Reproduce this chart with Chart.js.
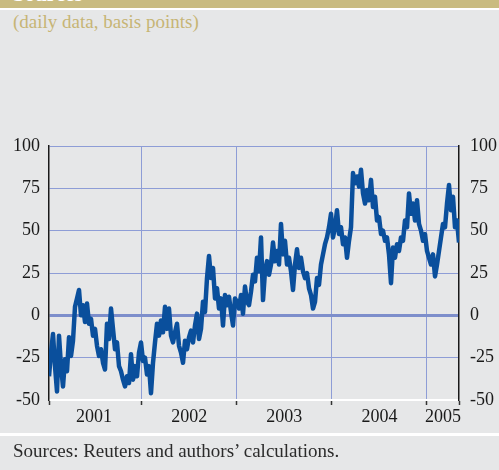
<!DOCTYPE html>
<html><head><meta charset="utf-8">
<script src="https://cdn.jsdelivr.net/npm/chart.js@4.4.1/dist/chart.umd.min.js"></script>
<style>
html,body{margin:0;padding:0;background:#e6e7e8;}
#wrap{position:relative;width:499px;height:470px;overflow:hidden;background:#e6e7e8;font-family:"Liberation Serif","Times New Roman",serif;}
#band{position:absolute;left:0;top:0;width:499px;height:8px;background:#c9bb80;overflow:hidden;}
#band span{position:absolute;left:13px;top:-16px;font-weight:bold;font-size:21px;line-height:21px;color:#fff;white-space:nowrap;}
#rule1{position:absolute;left:0;top:8px;width:499px;height:2px;background:#fff;}
#sub{position:absolute;left:13px;top:11px;font-size:19px;line-height:22px;color:#c6b575;white-space:nowrap;}
#rule2{position:absolute;left:0;top:433px;width:499px;height:3px;background:#fff;}
#src{position:absolute;left:13px;top:440px;font-size:19px;line-height:22px;color:#2b2b2b;white-space:nowrap;}
canvas{position:absolute;left:0;top:0;}
</style></head>
<body>
<div id="wrap">
  <div id="band"><span>Sources</span></div>
  <div id="rule1"></div>
  <div id="sub">(daily data, basis points)</div>
  <canvas id="c" width="499" height="470" style="width:499px;height:470px"></canvas>
  <div id="rule2"></div>
  <div id="src">Sources: Reuters and authors’ calculations.</div>
</div>
<script>
// sampled observations (basis points), evenly spaced from sampleStart to sampleEnd (decimal years)
const sampleStart = 2001.026;
const sampleEnd = 2005.337;
const spread2001 = [-36,-22,-11,-30,-45,-12,-30,-42,-26,-33,-13,-24,-15,5,10,15,0,6,-4,7,-5,-2,-12,-8,-18,-24,-20,-28,-32,-5,-14,4,-8,-20,-16,-30,-33,-38,-42,-36,-40,-23,-38,-30,-36,-22,-16,-27];
const spread2002 = [-25,-35,-30,-46,-28,-16,-5,-12,-3,-10,5,-8,4,-12,-16,-10,-5,-18,-22,-28,-15,-20,-13,-9,-16,-6,1,-14,-8,8,2,22,35,22,28,10,16,4,10,-6,12,6,11,2,-6,10,8];
const spread2003 = [4,12,1,17,8,6,14,24,20,34,26,46,9,26,32,24,30,43,32,38,30,54,36,44,30,34,26,15,30,39,28,34,26,22,25,16,12,4,8,22,18,30,36,42,46,52,60,46];
const spread2004 = [52,62,48,52,42,46,34,44,52,84,78,82,76,86,72,66,74,68,80,64,70,56,58,48,50,44,46,36,19,40,34,42,38,46,44,56,52,72,60,66,56,68,54,50,44,48,38];
const spread2005 = [34,30,36,23,30,38,46,54,52,66,77,62,70,52,56,43];

const yearLabels = ['2001','2002','2003','2004','2005'];
const yearLabelPos = [2001.5, 2002.5, 2003.5, 2004.5, 2005.17];
const yearBounds = [2002, 2003, 2004, 2005];
const yTicks = [-50,-25,0,25,50,75,100];

const spread = [].concat(spread2001, spread2002, spread2003, spread2004, spread2005);
const stepX = (sampleEnd - sampleStart) / (spread.length - 1);
const points = spread.map((v,i)=>({x: sampleStart + i*stepX, y: v}));

const xTickVals = [sampleStart].concat(yearLabelPos, yearBounds, [sampleEnd]).sort((a,b)=>a-b);
const isBound = v => yearBounds.some(b=>Math.abs(b-v)<1e-6);
const isEdge = v => Math.abs(v-sampleStart)<1e-6 || Math.abs(v-sampleEnd)<1e-6;
const labelFor = v => { const i = yearLabelPos.findIndex(p=>Math.abs(p-v)<1e-6); return i>=0 ? yearLabels[i] : ''; };

const fontY = {family:'"Liberation Serif","Times New Roman",serif', size:18};
const fontX = {family:'"Liberation Serif","Times New Roman",serif', size:18};
const gridBlue = '#8e9dd6';

new Chart(document.getElementById('c'), {
  type:'line',
  data:{datasets:[{data:points, borderColor:'#0a4f9c', borderWidth:4.5, pointRadius:0, tension:0, fill:false, borderJoinStyle:'round'}]},
  options:{
    responsive:false, animation:false,
    layout:{padding:{top:146,bottom:40,left:0,right:0}},
    plugins:{legend:{display:false}, tooltip:{enabled:false}},
    scales:{
      x:{type:'linear', min:sampleStart, max:sampleEnd,
        afterBuildTicks:s=>{ s.ticks = xTickVals.map(v=>({value:v})); },
        ticks:{autoSkip:false, maxRotation:0, minRotation:0, callback:v=>labelFor(v), font:fontX, color:'#1a1a1a', padding:1},
        grid:{color:c=> (c.tick && isBound(c.tick.value)) ? gridBlue : 'rgba(0,0,0,0)',
              tickColor:c=> (c.tick && (isBound(c.tick.value)||isEdge(c.tick.value))) ? '#333' : 'rgba(0,0,0,0)',
              tickLength:5, tickWidth:1.5, lineWidth:1},
        border:{color:'#ffffff', width:2},
        afterFit:s=>{ s.height = 30; }
      },
      y:{position:'left', min:-50, max:100,
        afterBuildTicks:s=>{ s.ticks = yTicks.map(v=>({value:v})); },
        ticks:{font:fontY, color:'#1a1a1a', padding:9},
        grid:{color:c=> (c.tick && c.tick.value===0) ? '#7d8ecb' : gridBlue,
              lineWidth:c=> (c.tick && c.tick.value===0) ? 3 : 1, drawTicks:false},
        border:{color:'#1a1a1a', width:1.5},
        afterFit:s=>{ s.width = 49; }
      },
      y2:{position:'right', min:-50, max:100,
        afterBuildTicks:s=>{ s.ticks = yTicks.map(v=>({value:v})); },
        ticks:{font:fontY, color:'#1a1a1a', padding:11},
        grid:{drawOnChartArea:false, drawTicks:false},
        border:{color:'#1a1a1a', width:1.5},
        afterFit:s=>{ s.width = 40; }
      }
    }
  }
});
</script>
</body></html>
